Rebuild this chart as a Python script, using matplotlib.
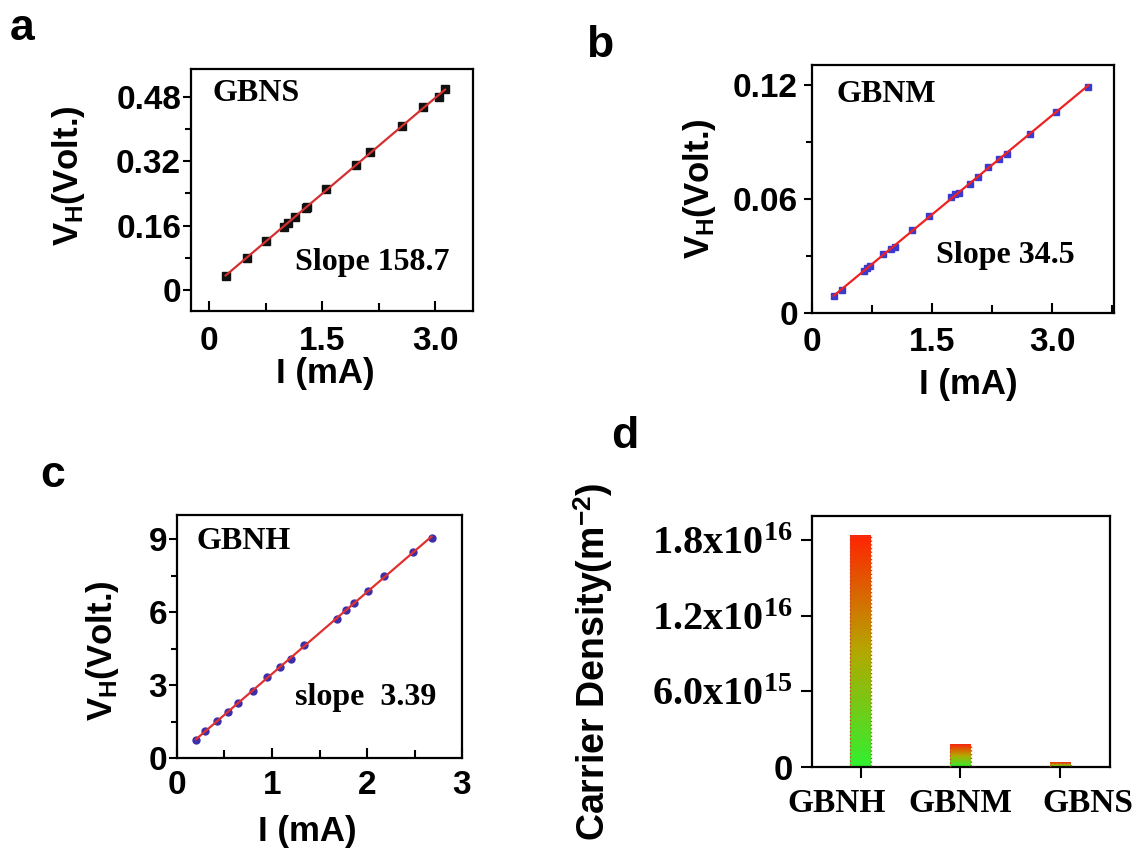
import numpy as np
import matplotlib
matplotlib.use('Agg')
import matplotlib.pyplot as plt
import matplotlib.transforms as mtransforms
from matplotlib.colors import LinearSegmentedColormap
from matplotlib.ticker import MultipleLocator

plt.rcParams['font.family'] = ['Liberation Sans', 'DejaVu Sans']
plt.rcParams['font.weight'] = 'bold'
plt.rcParams['mathtext.fontset'] = 'custom'
plt.rcParams['mathtext.rm'] = 'Liberation Serif:bold'
plt.rcParams['mathtext.sf'] = 'Liberation Sans:bold'
plt.rcParams['mathtext.bf'] = 'Liberation Serif:bold'
plt.rcParams['mathtext.it'] = 'Liberation Serif:bold:italic'

# ---------------- data ----------------
# panel a : GBNS
a_I = [0.22, 0.50, 0.75, 0.99, 1.05, 1.14, 1.28, 1.30, 1.55, 1.95, 2.13, 2.56, 2.84, 3.05, 3.13]
a_V = [0.035, 0.080, 0.121, 0.157, 0.167, 0.182, 0.203, 0.207, 0.250, 0.312, 0.342, 0.408, 0.454, 0.480, 0.500]
# panel b : GBNM
b_I = [0.27, 0.37, 0.65, 0.69, 0.73, 0.89, 0.99, 1.03, 1.25, 1.46, 1.73, 1.78, 1.83, 1.97, 2.07,
       2.20, 2.34, 2.44, 2.72, 3.05, 3.45]
b_V = [0.0091, 0.0119, 0.0221, 0.0235, 0.0249, 0.0308, 0.0338, 0.0345, 0.0438, 0.0509, 0.0611,
       0.0627, 0.0634, 0.0680, 0.0718, 0.0769, 0.0813, 0.0837, 0.0941, 0.1058, 0.1191]
# panel c : GBNH
c_I = [0.20, 0.30, 0.42, 0.54, 0.64, 0.80, 0.95, 1.08, 1.20, 1.34, 1.68, 1.78, 1.86, 2.01, 2.18, 2.48, 2.68]
c_V = [0.74, 1.11, 1.54, 1.90, 2.27, 2.75, 3.33, 3.73, 4.08, 4.63, 5.74, 6.09, 6.37, 6.89, 7.49, 8.46, 9.04]
# panel d : carrier density
d_samples = ['GBNH', 'GBNM', 'GBNS']
d_density = [1.835e16, 1.77e15, 3.2e14]

a_yticks = [0, 0.16, 0.32, 0.48]
a_yticklabels = ['0', '0.16', '0.32', '0.48']
a_xticks = [0, 1.5, 3.0]
a_xticklabels = ['0', '1.5', '3.0']
b_yticks = [0, 0.06, 0.12]
b_yticklabels = ['0', '0.06', '0.12']
b_xticks = [0, 1.5, 3.0]
b_xticklabels = ['0', '1.5', '3.0']
c_yticks = [0, 3, 6, 9]
c_yticklabels = ['0', '3', '6', '9']
c_xticks = [0, 1, 2, 3]
c_xticklabels = ['0', '1', '2', '3']
d_yticks = [0, 6.0e15, 1.2e16, 1.8e16]
d_yticklabels = ['0', r'6.0x10$^{\mathrm{15}}$', r'1.2x10$^{\mathrm{16}}$', r'1.8x10$^{\mathrm{16}}$']

fig = plt.figure(figsize=(11.36, 8.51), dpi=100)

def iv_panel(rect, I, V, marker, mcolor, msize, lcolor, xlim, ylim, xt, xtl, yt, ytl,
             xminor, yminor, name, name_pos, slope_txt, slope_pos, ylab_pos, xlab_pos,
             xpad, ypad):
    ax = fig.add_axes(rect)
    I = np.asarray(I); V = np.asarray(V)
    k, b = np.polyfit(I, V, 1)
    xx = np.array([I.min(), I.max()])
    ax.plot(I, V, linestyle='none', marker=marker, color=mcolor, markersize=msize, zorder=2)
    ax.plot(xx, k * xx + b, color=lcolor, lw=1.6, zorder=3)
    ax.set_xlim(*xlim); ax.set_ylim(*ylim)
    ax.set_xticks(xt, xtl, fontsize=24, fontweight='bold')
    ax.set_yticks(yt, ytl, fontsize=24, fontweight='bold')
    ax.xaxis.set_minor_locator(MultipleLocator(xminor))
    ax.yaxis.set_minor_locator(MultipleLocator(yminor))
    ax.tick_params(axis='x', which='both', direction='in', top=False, width=1.5, pad=xpad)
    ax.tick_params(axis='x', which='major', length=7)
    ax.tick_params(axis='x', which='minor', length=6)
    ax.tick_params(axis='y', which='both', direction='out', right=False, width=1.5, pad=ypad)
    ax.tick_params(axis='y', which='major', length=6)
    ax.tick_params(axis='y', which='minor', length=4)
    for s in ax.spines.values():
        s.set_linewidth(1.6)
    ax.set_ylabel(r'V$_{\mathsf{H}}$(Volt.)', fontsize=25, fontweight='bold')
    ax.yaxis.set_label_coords(*ylab_pos)
    ax.set_xlabel('I (mA)', fontsize=25, fontweight='bold')
    ax.xaxis.set_label_coords(*xlab_pos)
    ax.text(name_pos[0], name_pos[1], name, transform=ax.transAxes, family='Liberation Serif',
            weight='bold', size=23, ha='left', va='center')
    ax.text(slope_pos[0], slope_pos[1], slope_txt, transform=ax.transAxes, family='Liberation Serif',
            weight='bold', size=23, ha='left', va='center')
    return ax

ax_a = iv_panel([0.1681, 0.6346, 0.2482, 0.2844], a_I, a_V, 's', '#111111', 6.0, '#d43030',
                (-0.24, 3.5), (-0.0525, 0.55), a_xticks, a_xticklabels, a_yticks, a_yticklabels,
                0.75, 0.08, 'GBNS', (0.075, 0.90), 'Slope 158.7', (0.37, 0.20),
                (-0.37, 0.56), (0.475, -0.19), 11, 1)
ax_b = iv_panel([0.7148, 0.6322, 0.2658, 0.2914], b_I, b_V, 's', '#3a3ad0', 5.0, '#ee2222',
                (0.0, 3.77), (0.0, 0.1305), b_xticks, b_xticklabels, b_yticks, b_yticklabels,
                0.75, 0.03, 'GBNM', (0.08, 0.883), 'Slope 34.5', (0.41, 0.23),
                (-0.31, 0.5), (0.517, -0.22), 10, 4)
ax_c = iv_panel([0.1558, 0.1093, 0.2509, 0.2855], c_I, c_V, 'o', '#3b2ea8', 5.0, '#e03030',
                (0.0, 3.0), (0.0, 10.0), c_xticks, c_xticklabels, c_yticks, c_yticklabels,
                0.5, 1.5, 'GBNH', (0.07, 0.893), 'slope  3.39', (0.415, 0.247),
                (-0.195, 0.44), (0.456, -0.235), 9, 1)

# ---------------- panel d ----------------
ax_d = fig.add_axes([0.7148, 0.0987, 0.2623, 0.2949])
xpos = np.arange(len(d_samples))
bars = ax_d.bar(xpos, d_density, width=0.21, facecolor='none', edgecolor='#d04040',
                linestyle=':', linewidth=1.0, zorder=3)
cmap = LinearSegmentedColormap.from_list('gr', ['#30f030', '#b4a800', '#ff2400'])
grad = np.linspace(0, 1, 256).reshape(-1, 1)
for p in bars.patches:
    x0, w, h = p.get_x(), p.get_width(), p.get_height()
    ax_d.imshow(grad, extent=[x0, x0 + w, 0, h], aspect='auto', origin='lower', cmap=cmap, zorder=2)
ax_d.set_xlim(-0.487, 2.5)
ax_d.set_ylim(0, 1.99e16)
ax_d.set_xticks(xpos, d_samples, fontsize=24, fontweight='bold', fontfamily='Liberation Serif')
ax_d.set_yticks(d_yticks, d_yticklabels, fontsize=29, fontweight='bold', fontfamily='Liberation Serif')
ax_d.get_yticklabels()[0].set_fontfamily('Liberation Sans')
ax_d.get_yticklabels()[0].set_fontsize(25)
ax_d.tick_params(axis='both', direction='out', width=1.5, length=8, top=False, right=False)
ax_d.tick_params(axis='x', pad=7)
ax_d.tick_params(axis='y', pad=6)
# the sample names sit slightly spread apart from the bar centres in the original
for lbl, dx in zip(ax_d.get_xticklabels(), [-24, 0, 28]):
    lbl.set_transform(lbl.get_transform() + mtransforms.ScaledTranslation(dx / 100, 0, fig.dpi_scale_trans))
for s in ax_d.spines.values():
    s.set_linewidth(1.6)
ax_d.set_ylabel(r'Carrier Density(m$^{\mathsf{-2}}$)', fontsize=27, fontweight='bold')
ax_d.yaxis.set_label_coords(-0.66, 0.42)

# panel letters
for letter, x, y in [('a', 0.009, 0.966), ('b', 0.516, 0.946), ('c', 0.035, 0.441), ('d', 0.538, 0.487)]:
    fig.text(x, y, letter, fontsize=32, fontweight='bold', ha='left', va='center')

fig.savefig('out.png', dpi=100)
